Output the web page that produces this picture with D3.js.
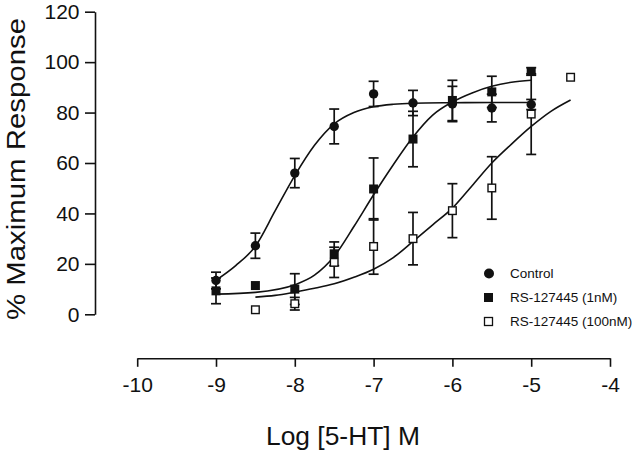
<!DOCTYPE html>
<html>
<head>
<meta charset="utf-8">
<script src="https://cdn.jsdelivr.net/npm/d3@7"></script>
<style>
  html, body { margin: 0; padding: 0; background: #fff; }
  svg { display: block; }
  text { font-family: "Liberation Sans", Arial, Helvetica, sans-serif; fill: #111; }
</style>
</head>
<body>
<svg id="chart" width="640" height="453"></svg>
<script>
// ---------- data ----------
const xTicks = [-10, -9, -8, -7, -6, -5, -4];
const yTicks = [0, 20, 40, 60, 80, 100, 120];

const controlX   = [-9, -8.5, -8, -7.5, -7, -6.5, -6, -5.5, -5];
const controlY   = [13.4, 27.2, 56.0, 74.5, 87.4, 83.8, 83.4, 81.8, 83.2];
const controlErr = [3.3, 5.0, 5.8, 6.9, 5.0, 5.0, 7.0, 5.5, 2.0];

const rs1X   = [-9, -8.5, -8, -7.5, -7, -6.5, -6, -5.5, -5];
const rs1Y   = [9.3, 11.4, 10.0, 24.0, 49.7, 69.5, 84.8, 88.2, 96.3];
const rs1Err = [5.1, 0, 6.1, 4.7, 12.3, 11.0, 8.0, 6.2, 1.5];

const rs100X   = [-8.5, -8, -7.5, -7, -6.5, -6, -5.5, -5, -4.5];
const rs100Y   = [1.8, 4.2, 20.6, 26.9, 30.0, 41.1, 50.1, 79.4, 94.0];
const rs100Err = [0, 2.5, 6.0, 11.0, 10.4, 10.7, 12.4, 16.0, 0];

// fitted curves
const controlCurveX = [-9, -8.75, -8.5, -8.25, -8, -7.75, -7.5, -7.25, -7, -6.75, -6.5, -6, -5.5, -5];
const controlCurveY = [13.5, 19.3, 27.0, 41.0, 55.0, 67.0, 75.5, 80.0, 82.3, 83.3, 83.7, 83.9, 84.0, 84.0];

const rs1CurveX = [-9, -8.5, -8, -7.75, -7.5, -7.25, -7, -6.75, -6.5, -6.25, -6, -5.75, -5.5, -5.25, -5];
const rs1CurveY = [8.0, 8.7, 11.7, 15.5, 23.0, 34.8, 47.4, 59.3, 70.3, 79.0, 84.2, 87.8, 90.4, 92.0, 92.8];

const rs100CurveX = [-8.5, -8.25, -8, -7.75, -7.5, -7.25, -7, -6.75, -6.5, -6.25, -6, -5.75, -5.5, -5.25, -5, -4.75, -4.5];
const rs100CurveY = [6.8, 7.5, 8.8, 10.3, 12.1, 14.7, 17.9, 22.5, 28.9, 35.5, 42.1, 51.0, 60.0, 67.5, 74.5, 80.5, 85.0];

const legendLabels = ["Control", "RS-127445 (1nM)", "RS-127445 (100nM)"];
const xTitle = "Log [5-HT] M";
const yTitle = "% Maximum Response";

// ---------- drawing ----------
const svg = d3.select("#chart");

const xScale = d3.scaleLinear().domain([-10, -4]).range([137.2, 610]);
const yScale = d3.scaleLinear().domain([0, 120]).range([314.3, 11.7]);

const fontFam = '"Liberation Sans", Arial, sans-serif';

// y axis
const yAxis = svg.append("g")
  .attr("transform", "translate(95,0)")
  .call(d3.axisLeft(yScale).tickValues(yTicks).tickSize(10).tickPadding(5.5).tickSizeOuter(0));
yAxis.select(".domain").attr("stroke", "#111").attr("stroke-width", 1.6);
yAxis.selectAll(".tick line").attr("stroke", "#111").attr("stroke-width", 1.6);
yAxis.selectAll(".tick text").style("font-size", "21px").attr("fill", "#111").style("font-family", fontFam);

// x axis
const xAxis = svg.append("g")
  .attr("transform", "translate(0,358.3)")
  .call(d3.axisBottom(xScale).tickValues(xTicks).tickSize(8.5).tickPadding(10).tickSizeOuter(0)
    .tickFormat(d => String(d)));
xAxis.select(".domain").attr("stroke", "#111").attr("stroke-width", 1.6);
xAxis.selectAll(".tick line").attr("stroke", "#111").attr("stroke-width", 1.6);
xAxis.selectAll(".tick text").style("font-size", "21px").attr("fill", "#111").style("font-family", fontFam);

// axis titles
svg.append("text")
  .attr("x", 343).attr("y", 445)
  .attr("text-anchor", "middle")
  .style("font-size", "26px")
  .attr("textLength", 154).attr("lengthAdjust", "spacingAndGlyphs")
  .text(xTitle);

svg.append("text")
  .attr("transform", "translate(25,169) rotate(-90)")
  .attr("text-anchor", "middle")
  .style("font-size", "26px")
  .attr("textLength", 302).attr("lengthAdjust", "spacingAndGlyphs")
  .text(yTitle);

// curves
const line = d3.line()
  .x(d => xScale(d[0]))
  .y(d => yScale(d[1]))
  .curve(d3.curveMonotoneX);

[[controlCurveX, controlCurveY], [rs1CurveX, rs1CurveY], [rs100CurveX, rs100CurveY]].forEach(([xs, ys]) => {
  svg.append("path")
    .datum(xs.map((x, i) => [x, ys[i]]))
    .attr("d", line)
    .attr("fill", "none")
    .attr("stroke", "#111")
    .attr("stroke-width", 1.6);
});

// error bars
const capHalf = 5;
function errorBars(xs, ys, es) {
  const g = svg.append("g").attr("stroke", "#111").attr("stroke-width", 1.7);
  xs.forEach((x, i) => {
    const e = es[i];
    if (!e) return;
    const cx = xScale(x);
    const yTop = yScale(ys[i] + e), yBot = yScale(ys[i] - e);
    g.append("line").attr("x1", cx).attr("x2", cx).attr("y1", yTop).attr("y2", yBot);
    g.append("line").attr("x1", cx - capHalf).attr("x2", cx + capHalf).attr("y1", yTop).attr("y2", yTop);
    g.append("line").attr("x1", cx - capHalf).attr("x2", cx + capHalf).attr("y1", yBot).attr("y2", yBot);
  });
}
errorBars(controlX, controlY, controlErr);
errorBars(rs1X, rs1Y, rs1Err);
errorBars(rs100X, rs100Y, rs100Err);

// markers
const sq = 9;
svg.append("g").selectAll("circle")
  .data(controlX.map((x, i) => [x, controlY[i]]))
  .join("circle")
  .attr("cx", d => xScale(d[0])).attr("cy", d => yScale(d[1]))
  .attr("r", 4.7).attr("fill", "#111");

svg.append("g").selectAll("rect")
  .data(rs1X.map((x, i) => [x, rs1Y[i]]))
  .join("rect")
  .attr("x", d => xScale(d[0]) - sq / 2).attr("y", d => yScale(d[1]) - sq / 2)
  .attr("width", sq).attr("height", sq).attr("fill", "#111");

svg.append("g").selectAll("rect")
  .data(rs100X.map((x, i) => [x, rs100Y[i]]))
  .join("rect")
  .attr("x", d => xScale(d[0]) - (sq - 1.4) / 2).attr("y", d => yScale(d[1]) - (sq - 1.4) / 2)
  .attr("width", sq - 1.4).attr("height", sq - 1.4)
  .attr("fill", "#fff").attr("stroke", "#111").attr("stroke-width", 1.4);

// legend
const legY = [273.5, 297.5, 321.5];
const leg = svg.append("g");
leg.append("circle").attr("cx", 489).attr("cy", legY[0]).attr("r", 5).attr("fill", "#111");
leg.append("rect").attr("x", 484).attr("y", legY[1] - 4.5).attr("width", 9).attr("height", 9).attr("fill", "#111");
leg.append("rect").attr("x", 484.5).attr("y", legY[2] - 4).attr("width", 8).attr("height", 8)
  .attr("fill", "#fff").attr("stroke", "#111").attr("stroke-width", 1.3);
legendLabels.forEach((t, i) => {
  leg.append("text").attr("x", 510).attr("y", legY[i]).attr("dy", "0.35em")
    .style("font-size", "13.5px").text(t);
});
</script>
</body>
</html>
